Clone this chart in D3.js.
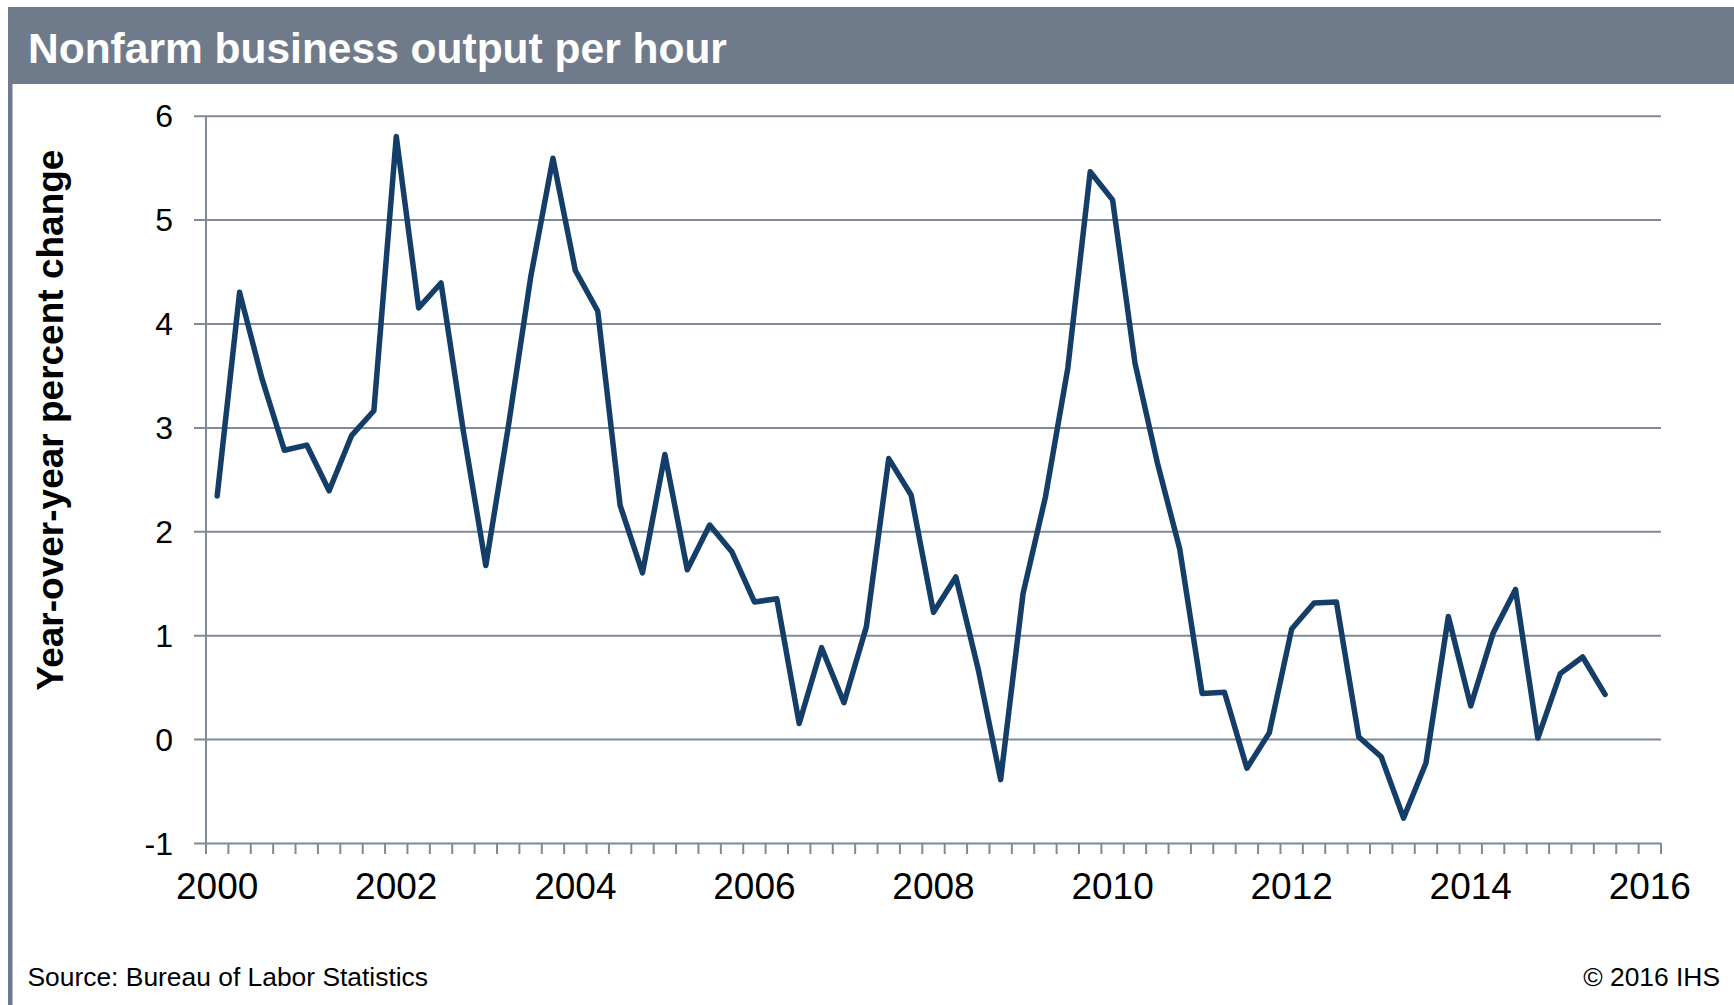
<!DOCTYPE html>
<html>
<head>
<meta charset="utf-8">
<script src="https://cdn.jsdelivr.net/npm/d3@7"></script>
<style>
  html, body { margin: 0; padding: 0; background: #ffffff; }
  svg { display: block; }
  text { font-family: "Liberation Sans", Arial, Helvetica, sans-serif; }
</style>
</head>
<body>
<svg id="chart" width="1734" height="1005"></svg>
<script>
// ---------------- data ----------------
const title = "Nonfarm business output per hour";
const yAxisTitle = "Year-over-year percent change";
const sourceText = "Source: Bureau of Labor Statistics";
const copyrightText = "\u00A9 2016 IHS";

// quarterly categories 2000Q1 .. 2016Q1
const quarters = [];
for (let yr = 2000; yr <= 2016; yr++) {
  for (let q = 1; q <= 4; q++) {
    if (yr === 2016 && q > 1) break;
    quarters.push(yr + "Q" + q);
  }
}
// year-over-year % change, 2000Q1 .. 2015Q3
const values = [
  2.34, 4.30, 3.47, 2.78, 2.83, 2.39, 2.92, 3.16,
  5.80, 4.15, 4.39, 2.96, 1.67, 3.00, 4.44, 5.59,
  4.51, 4.12, 2.25, 1.60, 2.74, 1.63, 2.06, 1.80,
  1.32, 1.35, 0.15, 0.88, 0.35, 1.08, 2.70, 2.35,
  1.22, 1.56, 0.67, -0.39, 1.40, 2.33, 3.57, 5.46,
  5.19, 3.62, 2.66, 1.83, 0.44, 0.45, -0.28, 0.06,
  1.06, 1.31, 1.32, 0.02, -0.17, -0.76, -0.23, 1.18,
  0.32, 1.02, 1.44, 0.01, 0.63, 0.79, 0.43
];
const yTicks = [-1, 0, 1, 2, 3, 4, 5, 6];
const xTickLabels = ["2000", "2002", "2004", "2006", "2008", "2010", "2012", "2014", "2016"];

// ---------------- layout ----------------
const W = 1734, H = 1005;
const plot = { left: 206, right: 1661, top: 115.7, bottom: 843 };
const frameColor = "#6f7b8a";
const gridColor = "#7f8998";
const lineColor = "#143e67";

const svg = d3.select("#chart");
svg.append("rect").attr("x", 0).attr("y", 0).attr("width", W).attr("height", H).attr("fill", "#fff");

// header band and left border
svg.append("rect").attr("x", 8).attr("y", 7).attr("width", W - 8).attr("height", 77).attr("fill", frameColor);
svg.append("rect").attr("x", 8).attr("y", 7).attr("width", 4.5).attr("height", H - 7).attr("fill", frameColor);
svg.append("text")
  .attr("x", 28).attr("y", 63)
  .attr("fill", "#ffffff")
  .attr("font-size", 42.5).attr("font-weight", "bold")
  .text(title);

// scales
const x = d3.scaleBand().domain(quarters).range([plot.left, plot.right]).paddingInner(0).paddingOuter(0);
const y = d3.scaleLinear().domain([-1, 6]).range([plot.bottom, plot.top]);

// y gridlines + labels via axis
const tickLeft = 194;
const yAxis = d3.axisLeft(y).tickValues(yTicks).tickFormat(d => String(d))
  .tickSize(plot.right - tickLeft).tickPadding(21);
const gy = svg.append("g").attr("transform", `translate(${plot.right},0)`).call(yAxis);
gy.select(".domain").remove();
gy.selectAll(".tick line").attr("stroke", gridColor).attr("stroke-width", 2);
gy.selectAll(".tick text")
  .attr("font-size", 32).attr("fill", "#000")
  .attr("font-family", "'Liberation Sans', Arial, sans-serif")
  .attr("dy", null).attr("dominant-baseline", "central");

// vertical y axis line
svg.append("line")
  .attr("x1", plot.left).attr("x2", plot.left)
  .attr("y1", y(6)).attr("y2", y(-1))
  .attr("stroke", gridColor).attr("stroke-width", 2);

// x-axis ticks at category boundaries
const boundaries = quarters.map(q => x(q)).concat([x(quarters[quarters.length - 1]) + x.bandwidth()]);
svg.append("g").selectAll("line").data(boundaries).join("line")
  .attr("x1", d => d).attr("x2", d => d)
  .attr("y1", y(-1)).attr("y2", y(-1) + 11)
  .attr("stroke", gridColor).attr("stroke-width", 2);

// x labels (centered on Q1 category of each labelled year)
svg.append("g").selectAll("text").data(xTickLabels).join("text")
  .attr("x", d => x(d + "Q1") + x.bandwidth() / 2)
  .attr("y", 899)
  .attr("text-anchor", "middle")
  .attr("font-size", 37).attr("fill", "#000")
  .text(d => d);

// y-axis title
svg.append("text")
  .attr("transform", "translate(63,420) rotate(-90)")
  .attr("text-anchor", "middle")
  .attr("font-size", 37).attr("font-weight", "bold").attr("fill", "#000")
  .text(yAxisTitle);

// data line
const pts = values.map((v, i) => ({ q: quarters[i], v }));
const line = d3.line().x(d => x(d.q) + x.bandwidth() / 2).y(d => y(d.v));
svg.append("path")
  .datum(pts)
  .attr("d", line)
  .attr("fill", "none")
  .attr("stroke", lineColor)
  .attr("stroke-width", 5.5)
  .attr("stroke-linejoin", "round")
  .attr("stroke-linecap", "round");

// footer
svg.append("text").attr("x", 27.5).attr("y", 986).attr("font-size", 26.4).attr("fill", "#000").text(sourceText);
svg.append("text").attr("x", 1720).attr("y", 986).attr("text-anchor", "end").attr("font-size", 26.4).attr("fill", "#000").text(copyrightText);
</script>
</body>
</html>
